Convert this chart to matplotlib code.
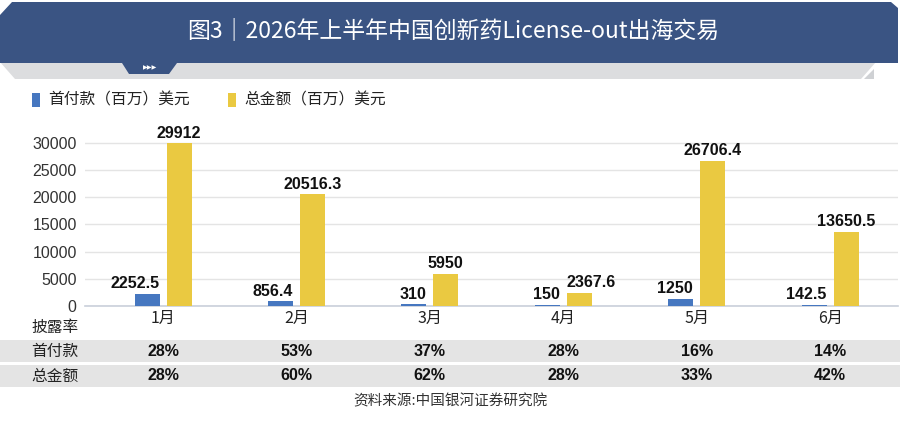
import numpy as np
import matplotlib
matplotlib.use("Agg")
import matplotlib.pyplot as plt
import matplotlib.transforms as mtransforms
from matplotlib.patches import Polygon, Rectangle

# ---- data ----
months = ["1月", "2月", "3月", "4月", "5月", "6月"]
upfront = [2252.5, 856.4, 310, 150, 1250, 142.5]
total = [29912, 20516.3, 5950, 2367.6, 26706.4, 13650.5]
upfront_labels = ["2252.5", "856.4", "310", "150", "1250", "142.5"]
total_labels = ["29912", "20516.3", "5950", "2367.6", "26706.4", "13650.5"]
upfront_rate = ["28%", "53%", "37%", "28%", "16%", "14%"]
total_rate = ["28%", "60%", "62%", "28%", "33%", "42%"]
yticks = [0, 5000, 10000, 15000, 20000, 25000, 30000]

title = "图3｜2026年上半年中国创新药License-out出海交易"
legend_names = ["首付款（百万）美元", "总金额（百万）美元"]
row_names = ["披露率", "首付款", "总金额"]
source = "资料来源:中国银河证券研究院"

# colours
c_blue = "#4677C0"
c_yellow = "#EAC941"
c_head = "#3A5483"
c_band = "#DCDDDF"
c_row = "#E4E4E4"

cjk = ["Noto Sans CJK SC", "DejaVu Sans"]
numfont = ["Liberation Sans", "DejaVu Sans"]
plt.rcParams["font.family"] = ["Liberation Sans", "Noto Sans CJK SC", "DejaVu Sans"]

W, H = 900, 432
fig = plt.figure(figsize=(W / 100, H / 100), dpi=100)

# background layer in pixel coordinates
bg = fig.add_axes([0, 0, 1, 1], zorder=0)
bg.set_xlim(0, W)
bg.set_ylim(H, 0)
bg.axis("off")

# header: grey band, blue banner with tab
bg.add_patch(Polygon([(0, 62), (876, 62), (861, 79), (15, 79)], closed=True,
                     color=c_band, lw=0))
bg.add_patch(Polygon([(864, 79), (874, 69), (874, 79)], closed=True,
                     color="#cfd1d4", lw=0))
bg.add_patch(Polygon([(12, 2), (891, 2), (898, 8), (898, 63), (177, 63),
                      (169, 74), (129, 74), (122, 63), (0, 63), (0, 15)],
                     closed=True, color=c_head, lw=0))
bg.text(150, 67.5, "▶▶▶", color="white", fontsize=4.5, ha="center",
        va="center", family=["DejaVu Sans"])
bg.text(453, 31, title, color="white", fontsize=16.5, ha="center",
        va="center", family=cjk, fontweight="medium")

# legend
bg.add_patch(Rectangle((32, 93), 8, 14, color=c_blue, lw=0))
bg.text(48, 100, legend_names[0], fontsize=11.3, ha="left", va="center",
        family=cjk, color="#222222")
bg.add_patch(Rectangle((228, 93), 8, 14, color=c_yellow, lw=0))
bg.text(244, 100, legend_names[1], fontsize=11.3, ha="left", va="center",
        family=cjk, color="#222222")

# table bands
bg.add_patch(Rectangle((0, 340), W, 22, color=c_row, lw=0))
bg.add_patch(Rectangle((0, 365), W, 22, color=c_row, lw=0))

# ---- bar chart ----
ax = fig.add_axes([85 / W, (H - 306) / H, 813 / W, 181 / H], zorder=1)
ax.patch.set_alpha(0)
x = np.arange(len(months))
bw = 0.187
off = 0.12
ax.bar(x - off, upfront, bw, color=c_blue, zorder=3)
ax.bar(x + off, total, bw, color=c_yellow, zorder=3)

ax.set_xlim(-0.585, 5.509)
ax.set_ylim(0, 33300)
ax.set_yticks(yticks)
ax.set_yticklabels([str(v) for v in yticks])
ax.tick_params(axis="y", length=0, pad=6, labelsize=11.5, labelcolor="#333333")
ax.grid(axis="y", color="#e4e4e4", lw=1, zorder=0)
ax.set_xticks(x)
ax.set_xticklabels(months, family=cjk, fontsize=11.5, color="#222222")
ax.tick_params(axis="x", length=0, pad=3)
for s in ["top", "right", "left"]:
    ax.spines[s].set_visible(False)
ax.spines["bottom"].set_color("#c9d0da")
ax.spines["bottom"].set_linewidth(1.2)

total_ha = ["center", "center", "center", "left", "center", "center"]
for i in range(len(months)):
    ax.annotate(upfront_labels[i], (x[i] - off + bw / 2, upfront[i]),
                xytext=(0, 2), textcoords="offset points", ha="right",
                va="bottom", fontsize=11.5, fontweight="bold", family=numfont,
                color="#111111", annotation_clip=False)
    xa = x[i] + off if total_ha[i] == "center" else x[i] + off - bw / 2
    ax.annotate(total_labels[i], (xa, total[i]),
                xytext=(0, 2), textcoords="offset points", ha=total_ha[i],
                va="bottom", fontsize=11.5, fontweight="bold", family=numfont,
                color="#111111", annotation_clip=False)

# ---- table under the chart ----
tr = mtransforms.blended_transform_factory(ax.transData, bg.transData)
row_y = [327, 351, 376]
for name, yy in zip(row_names, row_y):
    bg.text(55, yy, name, fontsize=11.3, ha="center", va="center", family=cjk,
            color="#222222")
for i in range(len(months)):
    bg.text(x[i], row_y[1], upfront_rate[i], transform=tr, fontsize=11.5,
            fontweight="bold", family=numfont, ha="center", va="center",
            color="#111111")
    bg.text(x[i], row_y[2], total_rate[i], transform=tr, fontsize=11.5,
            fontweight="bold", family=numfont, ha="center", va="center",
            color="#111111")

bg.text(450, 401, source, fontsize=10.5, ha="center", va="center",
        family=cjk, color="#333333")

fig.savefig("out.png", dpi=100)
